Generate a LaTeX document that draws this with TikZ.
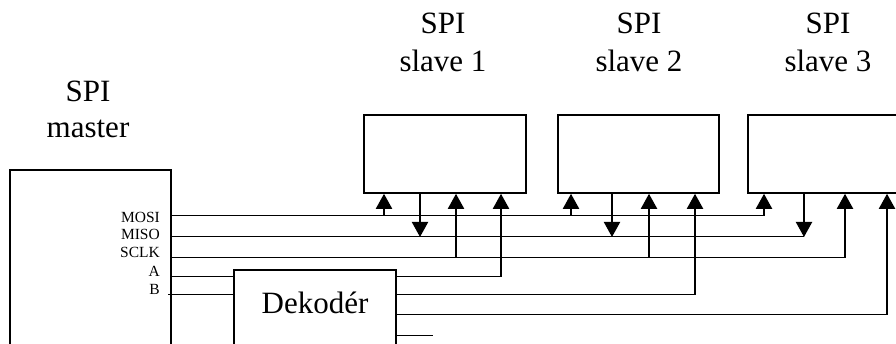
\documentclass[tikz,border=0pt]{standalone}
\usepackage{fontspec}
\setmainfont{Liberation Serif}
\usetikzlibrary{arrows.meta}

\begin{document}
\begin{tikzpicture}[x=1pt,y=-1pt,
  box/.style={draw, line width=1.8pt, inner sep=0pt, anchor=north west},
  wire/.style={line width=1pt},
  sig/.style={line width=2pt, -{Triangle[length=15pt,width=16pt]}},
  lbl/.style={font=\fontsize{31}{36}\selectfont, anchor=base, inner sep=0pt},
  pinlbl/.style={font=\fontsize{15.5}{18}\selectfont, anchor=base east, inner sep=0pt}]

\useasboundingbox (0,0) rectangle (896,344);

% blocks
\node[box, minimum width=161pt, minimum height=200pt] (master) at (9,169) {};
\node[box, minimum width=162pt, minimum height=78pt] (s1) at (363,114) {};
\node[box, minimum width=161pt, minimum height=78pt] (s2) at (557,114) {};
\node[box, minimum width=162pt, minimum height=78pt] (s3) at (747,114) {};
\node[box, minimum width=162pt, minimum height=100pt] (dec) at (233,269) {};

% titles
\node[lbl] (tm1) at (88,102) {SPI};
\node[lbl] (tm2) at (88,138) {master};
\node[lbl] (t11) at (443,34) {SPI};
\node[lbl] (t12) at (443,72) {slave 1};
\node[lbl] (t21) at (639,34) {SPI};
\node[lbl] (t22) at (639,72) {slave 2};
\node[lbl] (t31) at (828,34) {SPI};
\node[lbl] (t32) at (828,72) {slave 3};
\node[lbl] (tdec) at (315,313) {Dekodér};

% master pin names
\node[pinlbl] (pmosi) at (160,223) {MOSI};
\node[pinlbl] (pmiso) at (160,240) {MISO};
\node[pinlbl] (psclk) at (160,258) {SCLK};
\node[pinlbl] (pa) at (160,277) {A};
\node[pinlbl] (pb) at (160,295) {B};

% pin coordinates on the master
\coordinate (m-mosi) at (170,216);
\coordinate (m-miso) at (170,237);
\coordinate (m-sclk) at (170,258);
\coordinate (m-a) at (170,277);
\coordinate (m-b) at (168,295);

% decoder inputs
\coordinate (d-a) at (233,277);
\coordinate (d-b) at (233,295);
% decoder outputs
\coordinate (d-o1) at (395,277);
\coordinate (d-o2) at (395,295);
\coordinate (d-o3) at (395,315);
\coordinate (d-o4) at (395,335);

% bus taps
\coordinate (b1-mosi) at (384,216);
\coordinate (b2-mosi) at (571,216);
\coordinate (b3-mosi) at (764,216);
\coordinate (b1-miso) at (420,237);
\coordinate (b2-miso) at (612,237);
\coordinate (b3-miso) at (804,237);
\coordinate (b1-sclk) at (456,258);
\coordinate (b2-sclk) at (649,258);
\coordinate (b3-sclk) at (845,258);
\coordinate (b1-cs) at (501,277);
\coordinate (b2-cs) at (695,295);
\coordinate (b3-cs) at (887,315);
\coordinate (o4-end) at (433,335);

% bus lines
\draw[wire] (m-mosi) -- (b3-mosi);
\draw[wire] (m-miso) -- (b3-miso);
\draw[wire] (m-sclk) -- (b3-sclk);
\draw[wire] (m-a) -- (d-a);
\draw[wire] (m-b) -- (d-b);
\draw[wire] (d-o1) -- (b1-cs);
\draw[wire] (d-o2) -- (b2-cs);
\draw[wire] (d-o3) -- (b3-cs);
\draw[wire] (d-o4) -- (o4-end);

% MOSI into the slaves
\draw[sig] (b1-mosi) -- (b1-mosi |- s1.south);
\draw[sig] (b2-mosi) -- (b2-mosi |- s2.south);
\draw[sig] (b3-mosi) -- (b3-mosi |- s3.south);
% MISO out of the slaves
\draw[sig] (b1-miso |- s1.south) -- (b1-miso);
\draw[sig] (b2-miso |- s2.south) -- (b2-miso);
\draw[sig] (b3-miso |- s3.south) -- (b3-miso);
% SCLK into the slaves
\draw[sig] (b1-sclk) -- (b1-sclk |- s1.south);
\draw[sig] (b2-sclk) -- (b2-sclk |- s2.south);
\draw[sig] (b3-sclk) -- (b3-sclk |- s3.south);
% chip selects from the decoder
\draw[sig] (b1-cs) -- (b1-cs |- s1.south);
\draw[sig] (b2-cs) -- (b2-cs |- s2.south);
\draw[sig] (b3-cs) -- (b3-cs |- s3.south);

\end{tikzpicture}
\end{document}
